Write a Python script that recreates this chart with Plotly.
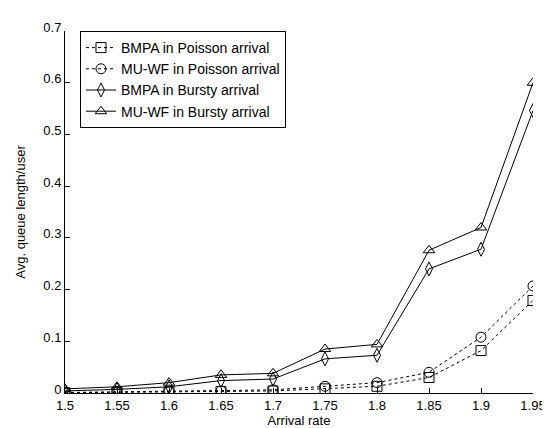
import plotly.graph_objects as go

arrival_rate = [1.5, 1.55, 1.6, 1.65, 1.7, 1.75, 1.8, 1.85, 1.9, 1.95]
x_tick_labels = ["1.5", "1.55", "1.6", "1.65", "1.7", "1.75", "1.8", "1.85", "1.9", "1.95"]
y_tick_values = [0, 0.1, 0.2, 0.3, 0.4, 0.5, 0.6, 0.7]
y_tick_labels = ["0", "0.1", "0.2", "0.3", "0.4", "0.5", "0.6", "0.7"]

bmpa_poisson = [0.0005, 0.001, 0.002, 0.003, 0.004, 0.008, 0.013, 0.030, 0.082, 0.179]
muwf_poisson = [0.001, 0.002, 0.003, 0.004, 0.006, 0.013, 0.020, 0.040, 0.108, 0.207]
bmpa_bursty = [0.004, 0.007, 0.012, 0.024, 0.027, 0.066, 0.073, 0.240, 0.278, 0.546]
muwf_bursty = [0.008, 0.012, 0.020, 0.035, 0.038, 0.085, 0.094, 0.276, 0.320, 0.600]

series = [
    ("BMPA in Poisson arrival", bmpa_poisson, "square-open", "3px,3px"),
    ("MU-WF in Poisson arrival", muwf_poisson, "circle-open", "3px,3px"),
    ("BMPA in Bursty arrival", bmpa_bursty, "diamond-tall-open", "solid"),
    ("MU-WF in Bursty arrival", muwf_bursty, "triangle-up-open", "solid"),
]

fig = go.Figure()
for name, vals, sym, dash in series:
    fig.add_trace(go.Scatter(
        x=arrival_rate, y=vals, name=name, mode="lines+markers",
        line=dict(color="black", width=1, dash=dash),
        marker=dict(symbol=sym, size=10, color="black", line=dict(width=1, color="black")),
    ))

fig.update_layout(
    width=550, height=428,
    margin=dict(l=57, r=20, t=13, b=42),
    paper_bgcolor="white", plot_bgcolor="white",
    font=dict(family="Liberation Sans, Arial, sans-serif", size=13, color="black"),
    showlegend=True,
    legend=dict(x=0.032, y=1.0, xanchor="left", yanchor="top",
                bordercolor="black", borderwidth=1, bgcolor="white",
                font=dict(size=14), tracegroupgap=0, itemwidth=30),
)
fig.update_xaxes(
    range=[1.5, 1.95], tickvals=arrival_rate, ticktext=x_tick_labels,
    showline=True, linecolor="black", linewidth=1, mirror=False,
    ticks="inside", ticklen=5, tickcolor="black", showgrid=False, zeroline=False,
    title=dict(text="Arrival rate", standoff=2, font=dict(size=13)),
)
fig.update_yaxes(
    range=[0, 0.7], tickvals=y_tick_values, ticktext=y_tick_labels,
    showline=True, linecolor="black", linewidth=1, mirror=False,
    ticks="inside", ticklen=5, tickcolor="black", showgrid=False, zeroline=False,
    ticklabelshift=-4,
    title=dict(text="Avg. queue length/user", standoff=14, font=dict(size=13)),
)

fig.write_html("out.html")
